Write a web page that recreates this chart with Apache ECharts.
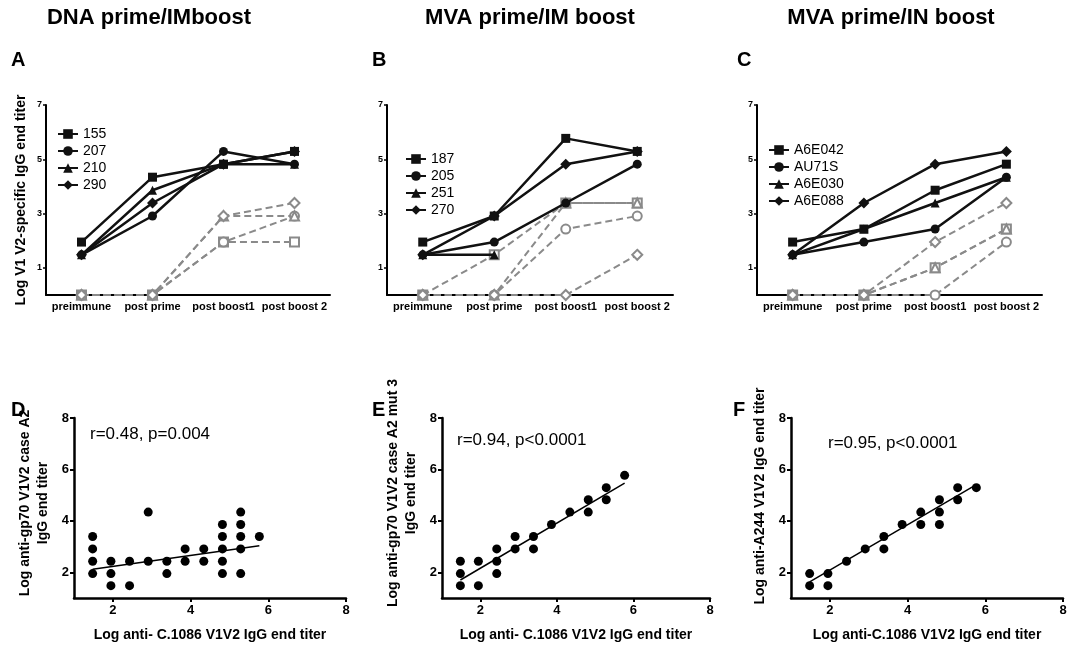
<!DOCTYPE html>
<html lang="en">
<head>
    <meta charset="UTF-8">
    <title>V1V2 titers</title>
    <script src="https://cdn.jsdelivr.net/npm/echarts@6.0.0/dist/echarts.min.js"></script>
    <style>
        html, body { margin: 0; padding: 0; background: #fff; }
        #main { width: 1070px; height: 646px; }
    </style>
</head>
<body>
    <div id="main"></div>
    <script>
        // time points for the top three panels
        var categories = ['preimmune', 'post prime', 'post boost1', 'post boost 2'];
        var DIAMOND = 'path://M0,-1L1,0L0,1L-1,0Z';
        var symbols = ['rect', 'circle', 'triangle', DIAMOND];

        // panel A - DNA prime / IM boost
        var namesA = ['155', '207', '210', '290'];
        var blackA = [[1.95, 4.34, 4.82, 5.29], [1.48, 2.91, 5.29, 4.82], [1.48, 3.86, 4.82, 4.82], [1.48, 3.39, 4.82, 5.29]];
        var grayA = [[0, 0, 1.95, 1.95], [0, 0, 1.95, 2.91], [0, 0, 2.91, 2.91], [0, 0, 2.91, 3.39]];

        // panel B - MVA prime / IM boost
        var namesB = ['187', '205', '251', '270'];
        var blackB = [[1.95, 2.91, 5.77, 5.29], [1.48, 1.95, 3.39, 4.82], [1.48, 1.48, null, null], [1.48, 2.91, 4.82, 5.29]];
        var grayB = [[0, 1.48, 3.39, 3.39], [0, 0, 2.43, 2.91], [0, 0, 3.39, 3.39], [0, 0, 0, 1.48]];

        // panel C - MVA prime / IN boost
        var namesC = ['A6E042', 'AU71S', 'A6E030', 'A6E088'];
        var blackC = [[1.95, 2.43, 3.86, 4.82], [1.48, 1.95, 2.43, 4.34], [1.48, 2.43, 3.39, 4.34], [1.48, 3.39, 4.82, 5.29]];
        var grayC = [[0, 0, 1.0, 2.43], [0, 0, 0, 1.95], [0, 0, 1.0, 2.43], [0, 0, 1.95, 3.39]];

        // panel D scatter
        var xD = [1.48, 1.48, 1.48, 1.48, 1.95, 1.95, 1.95, 2.43, 2.43, 2.91, 2.91, 3.39, 3.39, 3.86, 3.86, 4.34, 4.34,
                  4.82, 4.82, 4.82, 4.82, 4.82, 5.29, 5.29, 5.29, 5.29, 5.29, 5.77];
        var yD = [3.39, 2.91, 2.43, 1.95, 2.43, 1.95, 1.48, 2.43, 1.48, 4.34, 2.43, 2.43, 1.95, 2.91, 2.43, 2.91, 2.43,
                  3.86, 3.39, 2.91, 2.43, 1.95, 4.34, 3.86, 3.39, 2.91, 1.95, 3.39];
        var fitD = [[1.48, 2.12], [5.77, 3.03]];

        // panel E scatter
        var xE = [1.48, 1.48, 1.48, 1.95, 1.95, 2.43, 2.43, 2.43, 2.91, 2.91, 3.39, 3.39, 3.86, 4.34, 4.82, 4.82, 5.29, 5.29, 5.77];
        var yE = [2.43, 1.95, 1.48, 2.43, 1.48, 2.91, 2.43, 1.95, 3.39, 2.91, 3.39, 2.91, 3.86, 4.34, 4.82, 4.34, 5.29, 4.82, 5.77];
        var fitE = [[1.48, 1.70], [5.77, 5.47]];

        // panel F scatter
        var xF = [1.48, 1.48, 1.95, 1.95, 2.43, 2.91, 3.39, 3.39, 3.86, 4.34, 4.34, 4.82, 4.82, 4.82, 5.29, 5.29, 5.77];
        var yF = [1.95, 1.48, 1.95, 1.48, 2.43, 2.91, 3.39, 2.91, 3.86, 4.34, 3.86, 4.82, 4.34, 3.86, 5.29, 4.82, 5.29];
        var fitF = [[1.48, 1.63], [5.77, 5.41]];

        var topTicks = [1, 3, 5, 7];
        var bottomTicks = [2, 4, 6, 8];

        var FONT = 'Liberation Sans, Arial, sans-serif';
        var GRAY = '#8a8a8a';

        var grids = [
            { left: 46, top: 105, width: 284, height: 190 },
            { left: 387, top: 105, width: 286, height: 190 },
            { left: 757, top: 105, width: 285, height: 190 },
            { left: 74, top: 418, width: 272, height: 180 },
            { left: 442, top: 418, width: 268, height: 180 },
            { left: 791, top: 418, width: 272, height: 180 }
        ];

        var xAxes = [], yAxes = [];
        var yNames = [
            'Log V1 V2-specific IgG end titer', '', '',
            'Log anti-gp70 V1V2 case A2\nIgG end titer',
            'Log anti-gp70 V1V2 case A2 mut 3\nIgG end titer',
            'Log anti-A244 V1V2 IgG end titer'
        ];
        // the bottom y titles sit a little above the middle of their axes
        var yNamePad = [0, 0, 0, 10, 30, 24];
        var xNames = ['', '', '', 'Log anti- C.1086 V1V2 IgG end titer', 'Log anti- C.1086 V1V2 IgG end titer', 'Log anti-C.1086 V1V2 IgG end titer'];

        for (var i = 0; i < 3; i++) {
            xAxes.push({
                type: 'category', gridIndex: i, data: categories,
                axisLine: { lineStyle: { color: '#000', width: 2 } },
                axisTick: { show: false },
                axisLabel: { interval: 0, color: '#000', fontWeight: 'bold', fontSize: 11, fontFamily: FONT, margin: 6 }
            });
            yAxes.push({
                type: 'value', gridIndex: i, min: 0, max: 7,
                name: yNames[i], nameLocation: 'middle', nameGap: 18,
                nameTextStyle: { color: '#000', fontWeight: 'bold', fontSize: 14, fontFamily: FONT },
                axisLine: { show: true, lineStyle: { color: '#000', width: 2 } },
                axisTick: { show: true, length: 3, customValues: topTicks, lineStyle: { color: '#000', width: 1.5 } },
                axisLabel: { customValues: topTicks, color: '#000', fontWeight: 'bold', fontSize: 9, fontFamily: FONT, margin: 4 },
                splitLine: { show: false }
            });
        }
        for (var j = 3; j < 6; j++) {
            xAxes.push({
                type: 'value', gridIndex: j, min: 1, max: 8,
                name: xNames[j], nameLocation: 'middle', nameGap: 30,
                nameTextStyle: { color: '#000', fontWeight: 'bold', fontSize: 14, fontFamily: FONT },
                axisLine: { lineStyle: { color: '#000', width: 2.5 } },
                axisTick: { show: true, length: 4, customValues: bottomTicks, lineStyle: { color: '#000', width: 2 } },
                axisLabel: { customValues: bottomTicks, color: '#000', fontWeight: 'bold', fontSize: 13, fontFamily: FONT, margin: 6 },
                splitLine: { show: false }
            });
            yAxes.push({
                type: 'value', gridIndex: j, min: 1, max: 8,
                name: yNames[j], nameLocation: 'middle', nameGap: 22,
                nameTextStyle: { color: '#000', fontWeight: 'bold', fontSize: 14, fontFamily: FONT, lineHeight: 18,
                                 padding: [0, 0, 0, yNamePad[j]] },
                axisLine: { show: true, lineStyle: { color: '#000', width: 2.5 } },
                axisTick: { show: true, length: 4, customValues: bottomTicks, lineStyle: { color: '#000', width: 2 } },
                axisLabel: { customValues: bottomTicks, color: '#000', fontWeight: 'bold', fontSize: 13, fontFamily: FONT, margin: 5 },
                splitLine: { show: false }
            });
        }

        var series = [];
        function addPanel(idx, names, black, gray) {
            for (var k = 0; k < 4; k++) {
                series.push({
                    type: 'line', name: 'g' + idx + '_' + k, xAxisIndex: idx, yAxisIndex: idx,
                    data: gray[k], symbol: symbols[k], symbolSize: k === 3 ? 10 : 9,
                    clip: false, connectNulls: false,
                    lineStyle: { color: GRAY, width: 2, type: [7, 4] },
                    itemStyle: { color: '#fff', borderColor: GRAY, borderWidth: 2 },
                    z: 2, animation: false
                });
            }
            for (var m = 0; m < 4; m++) {
                series.push({
                    type: 'line', name: names[m], xAxisIndex: idx, yAxisIndex: idx,
                    data: black[m], symbol: symbols[m], symbolSize: m === 3 ? 11 : 9,
                    clip: false,
                    lineStyle: { color: '#111', width: 2.5 },
                    itemStyle: { color: '#111' },
                    z: 3, animation: false
                });
            }
        }
        addPanel(0, namesA, blackA, grayA);
        addPanel(1, namesB, blackB, grayB);
        addPanel(2, namesC, blackC, grayC);

        function zip(xs, ys) {
            return xs.map(function (x, n) { return [x, ys[n]]; });
        }
        var scatters = [[xD, yD, fitD], [xE, yE, fitE], [xF, yF, fitF]];
        scatters.forEach(function (s, n) {
            series.push({
                type: 'scatter', xAxisIndex: n + 3, yAxisIndex: n + 3,
                data: zip(s[0], s[1]), symbolSize: 9, itemStyle: { color: '#000', opacity: 1 }, animation: false
            });
            series.push({
                type: 'line', xAxisIndex: n + 3, yAxisIndex: n + 3,
                data: s[2], symbol: 'none', lineStyle: { color: '#000', width: 1.5 }, animation: false
            });
        });

        function legend(names, left, top) {
            return {
                data: names, orient: 'vertical', left: left, top: top, itemGap: 3, padding: 0,
                itemWidth: 20, itemHeight: 12, selectedMode: false,
                textStyle: { color: '#000', fontSize: 14, fontFamily: FONT }
            };
        }

        function text(str, x, y, size, weight, align) {
            return {
                type: 'text', x: x, y: y,
                style: { text: str, font: (weight || 'normal') + ' ' + size + 'px ' + FONT, fill: '#000', align: align || 'left', verticalAlign: 'middle' }
            };
        }

        var chart = echarts.init(document.getElementById('main'));
        chart.setOption({
            backgroundColor: '#fff',
            grid: grids,
            xAxis: xAxes,
            yAxis: yAxes,
            legend: [legend(namesA, 57, 127), legend(namesB, 405, 152), legend(namesC, 768, 143)],
            series: series,
            graphic: [
                text('DNA prime/IMboost', 149, 18, 22, 'bold', 'center'),
                text('MVA prime/IM boost', 530, 18, 22, 'bold', 'center'),
                text('MVA prime/IN boost', 891, 18, 22, 'bold', 'center'),
                text('A', 11, 60, 20, 'bold'),
                text('B', 372, 60, 20, 'bold'),
                text('C', 737, 60, 20, 'bold'),
                text('D', 11, 410, 20, 'bold'),
                text('E', 372, 410, 20, 'bold'),
                text('F', 733, 410, 20, 'bold'),
                text('r=0.48, p=0.004', 90, 434, 17),
                text('r=0.94, p<0.0001', 457, 440, 17),
                text('r=0.95, p<0.0001', 828, 443, 17)
            ]
        });
    </script>
</body>
</html>
